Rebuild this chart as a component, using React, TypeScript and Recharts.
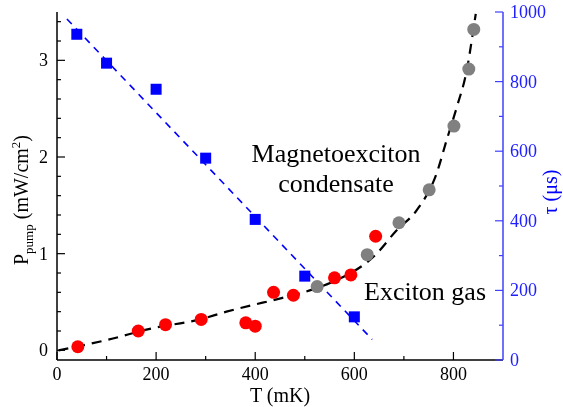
import React from "react";
import { ComposedChart, Scatter, Line, XAxis, YAxis, CartesianGrid } from "recharts";

// red circles: P_pump vs T (left axis)
const redT = [42, 164, 219, 291, 381, 400, 437, 477, 560, 593, 643];
const redP = [0.037, 0.2, 0.265, 0.32, 0.285, 0.25, 0.6, 0.57, 0.75, 0.78, 1.18];
// gray circles (left axis)
const grayT = [525, 626, 690, 751, 801, 831, 841];
const grayP = [0.66, 0.99, 1.32, 1.66, 2.32, 2.91, 3.32];
// blue squares: tau vs T (right axis)
const tauT = [40, 100, 200, 300, 400, 500, 600];
const tauUs = [936, 853, 778, 580, 404, 241, 124];
// black dashed guide
const fitT = [3, 100, 194, 289, 342, 396, 437, 510, 557, 645, 685, 726, 766, 786, 807, 827, 840, 845];
const fitP = [0, 0.106, 0.23, 0.32, 0.4, 0.47, 0.52, 0.62, 0.71, 1.0, 1.24, 1.45, 1.83, 2.17, 2.52, 2.9, 3.31, 3.48];
// blue dashed guide
const tauFitT = [20, 636];
const tauFitUs = [980, 59];

const xTicks = [0, 100, 200, 300, 400, 500, 600, 700, 800];
const leftTicks = [0, 0.2, 0.4, 0.6, 0.8, 1, 1.2, 1.4, 1.6, 1.8, 2, 2.2, 2.4, 2.6, 2.8, 3, 3.2, 3.4];
const rightTicks = [0, 100, 200, 300, 400, 500, 600, 700, 800, 900, 1000];

const red = redT.map((t, i) => ({ t, p: redP[i] }));
const gray = grayT.map((t, i) => ({ t, p: grayP[i] }));
const tau = tauT.map((t, i) => ({ t, tau: tauUs[i] }));
const fit = fitT.map((t, i) => ({ t, p: fitP[i] }));
const tauFit = tauFitT.map((t, i) => ({ t, tau: tauFitUs[i] }));

const FONT = "'Liberation Serif', 'Times New Roman', serif";
const BLUE = "#0000ff";
const AXIS_BLUE = "#4040ff";

const BottomTick = (props: any) => {
  const { x, y, payload } = props;
  const major = payload.value % 200 === 0;
  return (
    <g>
      <line x1={x} y1={y} x2={x} y2={y - (major ? 8 : 4)} stroke="#000" strokeWidth={1.2} />
      {major && (
        <text x={x} y={y + 20} textAnchor="middle" fontFamily={FONT} fontSize={18} fill="#000">
          {payload.value}
        </text>
      )}
    </g>
  );
};

const TopTick = (props: any) => {
  const { x, y } = props;
  return <line x1={x} y1={y} x2={x} y2={y + 5} stroke="#000" strokeWidth={1.2} />;
};

const LeftTick = (props: any) => {
  const { x, y, payload } = props;
  const major = Number.isInteger(payload.value);
  return (
    <g>
      <line x1={x} y1={y} x2={x + (major ? 8 : 4)} y2={y} stroke="#000" strokeWidth={1.2} />
      {major && (
        <text x={x - 9} y={y + 6} textAnchor="end" fontFamily={FONT} fontSize={18} fill="#000">
          {payload.value}
        </text>
      )}
    </g>
  );
};

const RightTick = (props: any) => {
  const { x, y, payload } = props;
  const major = payload.value % 200 === 0;
  return (
    <g>
      <line x1={x} y1={y} x2={x - (major ? 8 : 4)} y2={y} stroke={AXIS_BLUE} strokeWidth={1.2} />
      {major && (
        <text x={x + 7} y={y + 6} textAnchor="start" fontFamily={FONT} fontSize={18} fill="#2020ff">
          {payload.value}
        </text>
      )}
    </g>
  );
};

const Dot = (color: string) => (p: any) => <circle cx={p.cx} cy={p.cy} r={6.5} fill={color} />;
const Square = (p: any) => <rect x={p.cx - 5.5} y={p.cy - 5.5} width={11} height={11} fill={BLUE} />;

export default function App() {
  return (
    <div style={{ position: "absolute", left: 0, top: 0, width: 563, height: 407, background: "#fff" }}>
      <style>{`.xorfit .recharts-line-curve { mix-blend-mode: difference; }`}</style>
      <ComposedChart width={563} height={407} margin={{ top: 12, right: 0, bottom: 0, left: 0 }}>
        <CartesianGrid horizontal={false} vertical={false} fill="#fff" />
        <XAxis
          dataKey="t"
          type="number"
          domain={[0, 900]}
          ticks={xTicks}
          interval={0}
          height={47}
          tickSize={0}
          tickMargin={0}
          tickLine={false}
          tick={<BottomTick />}
          axisLine={{ stroke: "#000", strokeWidth: 1.5 }}
          allowDataOverflow
        />
        <XAxis
          xAxisId="top"
          orientation="top"
          dataKey="t"
          type="number"
          domain={[0, 900]}
          ticks={xTicks}
          interval={0}
          height={0}
          tickSize={0}
          tickMargin={0}
          tickLine={false}
          tick={<TopTick />}
          axisLine={{ stroke: "#000", strokeWidth: 1.5 }}
        />
        <YAxis
          yAxisId="left"
          type="number"
          domain={[-0.1, 3.5]}
          ticks={leftTicks}
          interval={0}
          width={57}
          tickSize={0}
          tickMargin={0}
          tickLine={false}
          tick={<LeftTick />}
          axisLine={{ stroke: "#000", strokeWidth: 1.5 }}
          allowDataOverflow
        />
        <YAxis
          yAxisId="right"
          orientation="right"
          type="number"
          domain={[0, 1000]}
          ticks={rightTicks}
          interval={0}
          width={60}
          tickSize={0}
          tickMargin={0}
          tickLine={false}
          tick={<RightTick />}
          axisLine={{ stroke: AXIS_BLUE, strokeWidth: 1.5 }}
          allowDataOverflow
        />
        <Scatter yAxisId="left" data={red} dataKey="p" shape={Dot("#ff0000")} isAnimationActive={false} />
        <Scatter yAxisId="left" data={gray} dataKey="p" shape={Dot("#808080")} isAnimationActive={false} />
        <Line
          yAxisId="left"
          className="xorfit"
          data={fit}
          dataKey="p"
          type="monotone"
          stroke="#ffffff"
          strokeWidth={2.2}
          strokeDasharray="10 7"
          dot={false}
          activeDot={false}
          isAnimationActive={false}
        />
        <Line
          yAxisId="right"
          data={tauFit}
          dataKey="tau"
          type="linear"
          stroke={BLUE}
          strokeWidth={1.6}
          strokeDasharray="7 6"
          dot={false}
          activeDot={false}
          isAnimationActive={false}
        />
        <Scatter yAxisId="right" data={tau} dataKey="tau" shape={Square} isAnimationActive={false} />
      </ComposedChart>
      <svg
        width={563}
        height={407}
        style={{ position: "absolute", left: 0, top: 0, pointerEvents: "none" }}
        fontFamily={FONT}
      >
        <text x={280} y={402} textAnchor="middle" fontSize={20} fill="#000">
          T (mK)
        </text>
        <text transform="translate(28,200) rotate(-90)" textAnchor="middle" fontSize={20} fill="#000">
          P
          <tspan fontSize={13} dy={5}>pump</tspan>
          <tspan dy={-5}> (mW/cm</tspan>
          <tspan fontSize={13} dy={-8}>2</tspan>
          <tspan dy={8}>)</tspan>
        </text>
        <text transform="translate(557,192) rotate(-90)" textAnchor="middle" fontSize={20} fill={BLUE}>
          τ (μs)
        </text>
        <text x={336} y={162} textAnchor="middle" fontSize={26} fill="#000">
          Magnetoexciton
        </text>
        <text x={336} y={192} textAnchor="middle" fontSize={26} fill="#000">
          condensate
        </text>
        <text x={364} y={300} textAnchor="start" fontSize={26} fill="#000">
          Exciton gas
        </text>
      </svg>
    </div>
  );
}
